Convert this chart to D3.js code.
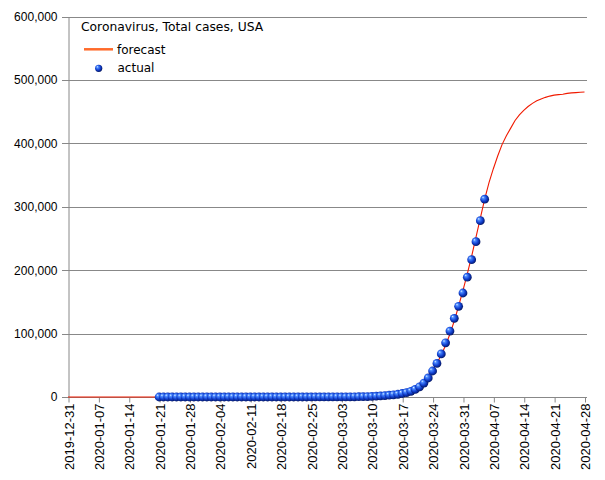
<!DOCTYPE html>
<html>
<head>
<meta charset="utf-8">
<script src="https://cdn.jsdelivr.net/npm/d3@7"></script>
<style>
  body { margin: 0; background: #fff; }
  .tick text { font-family: "Liberation Sans", Arial, sans-serif; fill: #000; }
  .tick line { stroke: #888; }
</style>
</head>
<body>
<div id="chart"></div>
<script>
// weekly date ticks and value ticks
const xTicks = ["2019-12-31", "2020-01-07", "2020-01-14", "2020-01-21", "2020-01-28",
    "2020-02-04", "2020-02-11", "2020-02-18", "2020-02-25", "2020-03-03", "2020-03-10",
    "2020-03-17", "2020-03-24", "2020-03-31", "2020-04-07", "2020-04-14", "2020-04-21", "2020-04-28"];
const yTicks = [0, 100000, 200000, 300000, 400000, 500000, 600000];

// forecast, one value a day from 2019-12-31
const forecastStart = "2019-12-31";
const forecast = [
    0, 0, 0, 0, 0, 0, 0, 0, 0, 0,
    0, 0, 0, 0, 0, 0, 0, 0, 0, 0,
    0, 0, 0, 0, 0, 0, 0, 0, 0, 0,
    0, 0, 0, 0, 0, 0, 0, 0, 0, 0,
    1, 1, 1, 2, 2, 3, 4, 5, 6, 8,
    11, 14, 18, 23, 30, 39, 50, 65, 83, 107,
    131, 168, 215, 275, 352, 448, 570, 725, 920, 1170,
    1500, 1920, 2450, 3130, 4000, 5100, 6500, 8300, 10500, 13400,
    17000, 21500, 27200, 34000, 42800, 53400, 66200, 81500, 99400, 120000,
    143500, 168000, 194000, 222000, 252000, 282000, 312000, 338000, 360000, 380000,
    398000, 412000, 424000, 436000, 445000, 452000, 458000, 463000, 467000, 470000,
    472500, 474500, 476000, 476800, 477500, 478800, 479500, 480000, 480500, 481000
];

// actual total cases, one value a day from 2020-01-21
const actualStart = "2020-01-21";
const actual = [
    1, 1, 1, 2, 2, 5, 5, 5, 5, 5, 6,
    7, 8, 11, 11, 11, 12, 12, 12, 12, 12, 13, 13, 14, 15, 15, 15, 15, 15, 15, 15, 15,
    35, 35, 35, 53, 57, 60, 60, 68,
    75, 100, 124, 158, 221, 319, 435, 541, 704, 994, 1300, 1700, 2200, 2800, 3500,
    4300, 5500, 7000, 9000, 12000, 16000, 22000, 30000, 41000, 53000, 68000, 85500,
    104000, 124000, 143000, 164000,
    189000, 216500, 245000, 278000, 312000
];

const width = 605, height = 480;
const mLeft = 68, mRight = 584.5, mTop = 16.5, mBottom = 397, gridRight = 587;

const parse = d3.timeParse("%Y-%m-%d");
const fmt = d3.timeFormat("%Y-%m-%d");

const forecastData = forecast.map((v, i) => ({date: d3.timeDay.offset(parse(forecastStart), i), value: v}));
const actualData = actual.map((v, i) => ({date: d3.timeDay.offset(parse(actualStart), i), value: v}));

const x = d3.scaleTime()
    .domain([parse(xTicks[0]), parse(xTicks[xTicks.length - 1])])
    .range([mLeft, mRight]);

const y = d3.scaleLinear()
    .domain([0, 600000])
    .range([mBottom, mTop]);

const svg = d3.select("#chart").append("svg")
    .attr("width", width)
    .attr("height", height);

const defs = svg.append("defs");
const grad = defs.append("radialGradient")
    .attr("id", "ball")
    .attr("cx", "45%").attr("cy", "45%").attr("r", "60%")
    .attr("fx", "30%").attr("fy", "28%");
grad.append("stop").attr("offset", "0%").attr("stop-color", "#e4f0ff");
grad.append("stop").attr("offset", "22%").attr("stop-color", "#4d8cff");
grad.append("stop").attr("offset", "60%").attr("stop-color", "#1240d0");
grad.append("stop").attr("offset", "100%").attr("stop-color", "#000f55");

// gridlines
svg.append("g")
    .selectAll("line")
    .data(yTicks)
    .join("line")
    .attr("x1", mLeft - 6)
    .attr("x2", gridRight)
    .attr("y1", d => Math.round(y(d)) + 0.5)
    .attr("y2", d => Math.round(y(d)) + 0.5)
    .attr("stroke", "#888");

// y axis
const yAxis = svg.append("g")
    .attr("transform", `translate(${mLeft + 0.5},0)`)
    .call(d3.axisLeft(y).tickValues(yTicks).tickFormat(d3.format(",")).tickSize(0).tickPadding(11));
yAxis.select(".domain").attr("stroke", "#888");
yAxis.selectAll(".tick text").attr("font-size", 12);

// x axis
const xAxis = svg.append("g")
    .attr("transform", `translate(0.5,${mBottom + 0.5})`)
    .call(d3.axisBottom(x).tickValues(xTicks.map(parse)).tickFormat(fmt).tickSize(5).tickSizeOuter(0));
xAxis.select(".domain").remove();
xAxis.selectAll(".tick text")
    .attr("font-size", 13)
    .attr("transform", "rotate(-90)")
    .attr("x", -6)
    .attr("y", 0)
    .attr("dy", "0.35em")
    .style("text-anchor", "end");

// forecast line
svg.append("path")
    .datum(forecastData)
    .attr("fill", "none")
    .attr("stroke", "#f01a00")
    .attr("stroke-width", 1.1)
    .attr("d", d3.line().x(d => x(d.date)).y(d => y(d.value)));

// actual points
svg.append("g")
    .selectAll("circle")
    .data(actualData)
    .join("circle")
    .attr("cx", d => x(d.date))
    .attr("cy", d => y(d.value))
    .attr("r", 4.4)
    .attr("fill", "url(#ball)");

// title and legend
svg.append("text")
    .attr("x", 81).attr("y", 31)
    .attr("font-family", "DejaVu Sans")
    .attr("font-size", 12.3)
    .text("Coronavirus, Total cases, USA");

svg.append("line")
    .attr("x1", 84).attr("x2", 113)
    .attr("y1", 49.3).attr("y2", 49.3)
    .attr("stroke", "#ff6a2a")
    .attr("stroke-width", 2.5);
svg.append("text")
    .attr("x", 117).attr("y", 53.5)
    .attr("font-family", "DejaVu Sans")
    .attr("font-size", 12)
    .text("forecast");

svg.append("circle")
    .attr("cx", 98.7).attr("cy", 68.3)
    .attr("r", 3.6)
    .attr("fill", "url(#ball)");
svg.append("text")
    .attr("x", 117.5).attr("y", 72)
    .attr("font-family", "DejaVu Sans")
    .attr("font-size", 12)
    .text("actual");
</script>
</body>
</html>
